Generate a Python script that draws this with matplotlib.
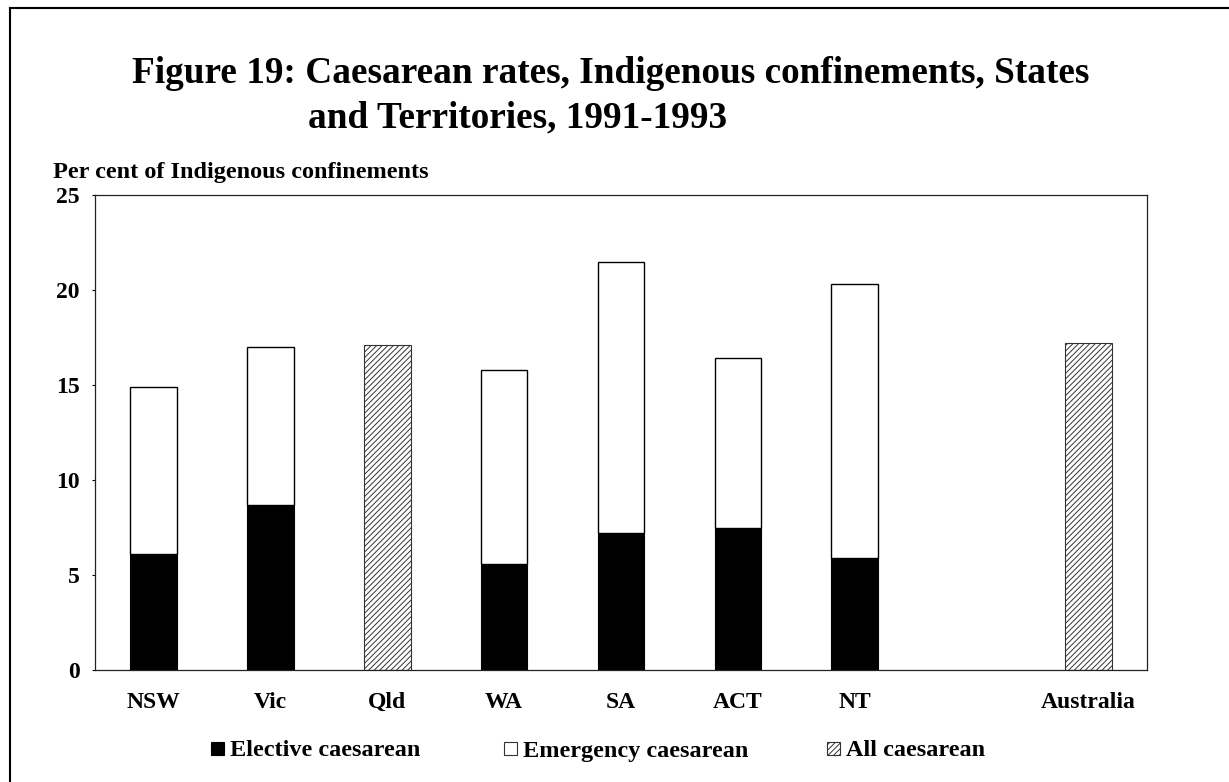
import matplotlib
matplotlib.use("Agg")
import matplotlib.pyplot as plt
from matplotlib.patches import Rectangle
from matplotlib.lines import Line2D
import numpy as np

categories = ["NSW", "Vic", "Qld", "WA", "SA", "ACT", "NT", "", "Australia"]
elective = [6.1, 8.7, 0, 5.6, 7.2, 7.5, 5.9, 0, 0]
emergency = [8.8, 8.3, 0, 10.2, 14.3, 8.9, 14.4, 0, 0]
all_caes = [0, 0, 17.1, 0, 0, 0, 0, 0, 17.2]
yticks = [0, 5, 10, 15, 20, 25]
legend_labels = ["Elective caesarean", "Emergency caesarean", "All caesarean"]

SERIF = ["Liberation Serif", "DejaVu Serif"]
plt.rcParams["font.family"] = SERIF
plt.rcParams["hatch.color"] = "#444444"
plt.rcParams["hatch.linewidth"] = 0.7

W, H = 1229, 782
fig = plt.figure(figsize=(W / 100, H / 100), dpi=100)
ax = fig.add_axes([95 / W, 1 - 670 / H, (1147 - 95) / W, (670 - 195) / H])

x = np.arange(len(categories))
w = 0.4
el = np.array(elective)
em = np.array(emergency)
al = np.array(all_caes)
m = el + em > 0
ax.bar(x[m], el[m], w, color="black", edgecolor="black", linewidth=0.8)
ax.bar(x[m], em[m], w, bottom=el[m], color="white", edgecolor="black", linewidth=1.0)
ma = al > 0
ax.bar(x[ma], al[ma], w, color="white", edgecolor="#333333", linewidth=0.8, hatch="//////")

ax.set_xlim(-0.5, len(categories) - 0.5)
ax.set_ylim(0, 25)
ax.set_yticks(yticks)
ax.set_yticklabels([str(t) for t in yticks], fontsize=17, fontweight="bold")
ax.set_xticks(x)
ax.set_xticklabels(categories, fontsize=17, fontweight="bold")
ax.tick_params(axis="x", length=0, pad=16)
ax.tick_params(axis="y", length=2.5, width=0.8, pad=8.5, direction="out")
for s in ax.spines.values():
    s.set_linewidth(0.9)
    s.set_color("#222222")

fig.text(53 / W, 1 - 178 / H, "Per cent of Indigenous confinements", fontsize=17.5,
         fontweight="bold", ha="left", va="baseline")
fig.text(132 / W, 1 - 83 / H, "Figure 19: Caesarean rates, Indigenous confinements, States",
         fontsize=26.8, fontweight="bold", ha="left", va="baseline")
fig.text(308 / W, 1 - 127 / H, "and Territories, 1991-1993",
         fontsize=26.8, fontweight="bold", ha="left", va="baseline")

# legend drawn in figure coordinates
leg_sq_x = [211, 504, 827]
leg_styles = [dict(facecolor="black", edgecolor="black", linewidth=0.8),
              dict(facecolor="white", edgecolor="#333333", linewidth=0.8),
              dict(facecolor="white", edgecolor="#333333", linewidth=0.8, hatch="//////")]
sq = 13
ly = 751
for sx, lab, st in zip(leg_sq_x, legend_labels, leg_styles):
    fig.add_artist(Rectangle((sx / W, 1 - (ly - 3 + sq / 2) / H), sq / W, sq / H,
                             transform=fig.transFigure, **st))
    fig.text((sx + sq + 6) / W, 1 - ly / H, lab, fontsize=17.5, fontweight="bold",
             ha="left", va="center")

# page frame lines
fig.add_artist(Line2D([10 / W, 1.0], [1 - 8 / H, 1 - 8 / H], color="black", linewidth=1.5,
                      transform=fig.transFigure))
fig.add_artist(Line2D([10 / W, 10 / W], [0, 1 - 8 / H], color="black", linewidth=1.5,
                      transform=fig.transFigure))

fig.savefig("out.png", dpi=100)
